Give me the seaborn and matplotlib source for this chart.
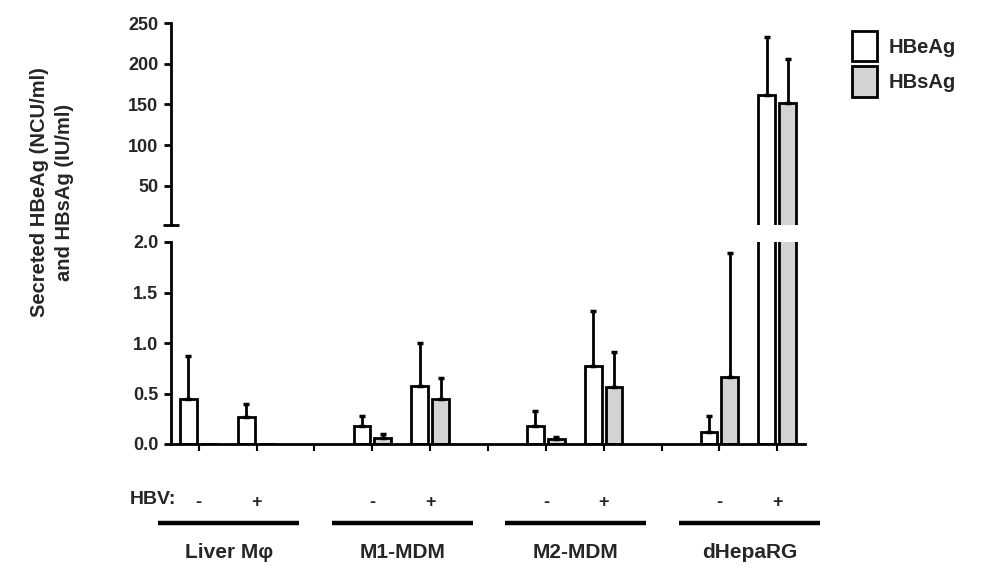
import numpy as np
import pandas as pd
import matplotlib
matplotlib.use("Agg")
import matplotlib.pyplot as plt
import matplotlib.transforms as mtransforms
from matplotlib.patches import Patch
from matplotlib.container import BarContainer
import seaborn as sns

# ---------------- data ----------------
groups = ["Liver Mφ", "M1-MDM", "M2-MDM", "dHepaRG"]
hbv_states = ["-", "+"]
series = ["HBeAg", "HBsAg"]
# mean values per (group, HBV state)
hbeag_mean = [0.445, 0.27, 0.18, 0.575, 0.18, 0.77, 0.12, 162.0]
hbsag_mean = [0.0, 0.0, 0.06, 0.445, 0.05, 0.565, 0.66, 152.0]
# upper error (SD) per bar
hbeag_err = [0.425, 0.13, 0.10, 0.425, 0.15, 0.55, 0.16, 71.0]
hbsag_err = [0.0, 0.0, 0.04, 0.205, 0.02, 0.345, 1.23, 54.0]
y_ticks_low = [0.0, 0.5, 1.0, 1.5, 2.0]
y_ticks_high = [50, 100, 150, 200, 250]
break_low, break_high = 2.0, 250.0

# ---------------- table ----------------
cats = [f"{g} {s}" for g in groups for s in hbv_states]
order = []
for gi, g in enumerate(groups):
    order += [f"{g} {s}" for s in hbv_states]
    if gi < len(groups) - 1:
        order.append(f"gap{gi}")

rows = []
for i, c in enumerate(cats):
    rows.append({"cond": c, "antigen": "HBeAg", "value": hbeag_mean[i], "err": hbeag_err[i]})
    rows.append({"cond": c, "antigen": "HBsAg", "value": hbsag_mean[i], "err": hbsag_err[i]})
df = pd.DataFrame(rows)
err_lookup = {(r.cond, r.antigen): r.err for r in df.itertuples()}
val_lookup = {(r.cond, r.antigen): r.value for r in df.itertuples()}

# ---------------- style ----------------
sns.set_theme(style="white")
plt.rcParams["font.family"] = ["Liberation Sans", "DejaVu Sans"]
plt.rcParams["font.weight"] = "bold"
FS = 13
palette = {"HBeAg": "white", "HBsAg": "#d3d3d3"}

fig = plt.figure(figsize=(10.04, 5.73), dpi=100)
W, H = 1004, 573
left, right = 171 / W, 805 / W
ax_lo = fig.add_axes([left, 1 - 444 / H, right - left, (444 - 242) / H])
ax_hi = fig.add_axes([left, 1 - 225 / H, right - left, (225 - 23) / H])

for ax, sub in ((ax_lo, df), (ax_hi, df[df["value"] > break_low])):
    sns.barplot(data=sub, x="cond", y="value", hue="antigen", order=order,
                hue_order=series, palette=palette, width=0.72, gap=0.2,
                edgecolor="black", linewidth=2.0, errorbar=None,
                legend=False, ax=ax)
    bar_containers = [c for c in ax.containers if isinstance(c, BarContainer)]
    # error bars (upper only) positioned on the drawn bars
    for cont in bar_containers:
        for p in cont.patches:
            xc = p.get_x() + p.get_width() / 2
            ci = int(round(xc))
            c = order[ci]
            ser = series[0] if xc < ci else series[1]
            e = err_lookup.get((c, ser), 0)
            v = val_lookup.get((c, ser), 0)
            if e > 0 and p.get_height() > 0:
                ax.errorbar([xc], [v], yerr=[[0], [e]], fmt="none",
                            ecolor="black", elinewidth=2.0, capsize=2.5,
                            capthick=2.5, zorder=1)
    ax.set_xlim(-0.48, len(order) - 1 + 0.48)
    ax.set_xlabel("")
    ax.set_ylabel("")
    for side in ("top", "right"):
        ax.spines[side].set_visible(False)
    ax.spines["left"].set_linewidth(2.0)
    ax.spines["left"].set_color("black")

# lower axis
ax_lo.set_ylim(0, break_low)
ax_lo.set_yticks(y_ticks_low)
ax_lo.set_yticklabels([f"{t:.1f}" for t in y_ticks_low], fontsize=FS, fontweight="bold")
ax_lo.set_yticks([break_low], minor=True)
ax_lo.tick_params(axis="y", which="major", direction="out", length=5, width=2, color="black", left=True, pad=4)
ax_lo.tick_params(axis="y", which="minor", direction="inout", length=11, width=2, color="black", left=True)
ax_lo.spines["bottom"].set_linewidth(2.0)
ax_lo.spines["bottom"].set_color("black")
xt = list(range(len(order)))
xl = [c.split(" ")[-1] if c in cats else "" for c in order]
ax_lo.set_xticks(xt)
ax_lo.set_xticklabels(xl, fontsize=FS, fontweight="bold")
ax_lo.tick_params(axis="x", direction="out", length=5, width=1.5, color="black", bottom=True, pad=31)

# upper axis
ax_hi.set_ylim(break_low, break_high)
ax_hi.set_yticks(y_ticks_high)
ax_hi.set_yticklabels([str(t) for t in y_ticks_high], fontsize=FS, fontweight="bold")
ax_hi.set_yticks([break_low], minor=True)
ax_hi.tick_params(axis="y", which="major", direction="out", length=5, width=2, color="black", left=True, pad=4)
ax_hi.tick_params(axis="y", which="minor", direction="inout", length=11, width=2, color="black", left=True)
ax_hi.spines["bottom"].set_visible(False)
ax_hi.set_xticks([])

# HBV label, group lines and group names
fig.text(176 / W, 1 - 500 / H, "HBV:", ha="right", va="center", fontsize=FS + 1, fontweight="bold")
trans = mtransforms.blended_transform_factory(ax_lo.transData, fig.transFigure)
for gi, g in enumerate(groups):
    i0 = order.index(f"{g} {hbv_states[0]}")
    i1 = order.index(f"{g} {hbv_states[-1]}")
    ax_lo.plot([i0 - 0.7, i1 + 0.74], [1 - 523 / H] * 2, color="black", lw=3.2,
               transform=trans, clip_on=False, solid_capstyle="butt")
    ax_lo.text((i0 + i1) / 2 + 0.02, 1 - 552 / H, g, transform=trans, ha="center", va="center",
               fontsize=15, fontweight="bold")

# y label
fig.text(52 / W, 1 - 192 / H, "Secreted HBeAg (NCU/ml)\nand HBsAg (IU/ml)", rotation=90,
         ha="center", va="center", multialignment="center", fontsize=14.5, fontweight="bold",
         linespacing=1.45)

# legend
handles = [Patch(facecolor=palette[s], edgecolor="black", linewidth=2.0, label=s) for s in series]
fig.legend(handles=handles, loc="upper left", bbox_to_anchor=(852 / W, 1 - 31 / H),
           frameon=False, handlelength=1.25, handleheight=1.95,
           handletextpad=0.55, labelspacing=0.25, borderaxespad=0, borderpad=0,
           prop={"weight": "bold", "size": 14.5})

fig.savefig("out.png", dpi=100)
